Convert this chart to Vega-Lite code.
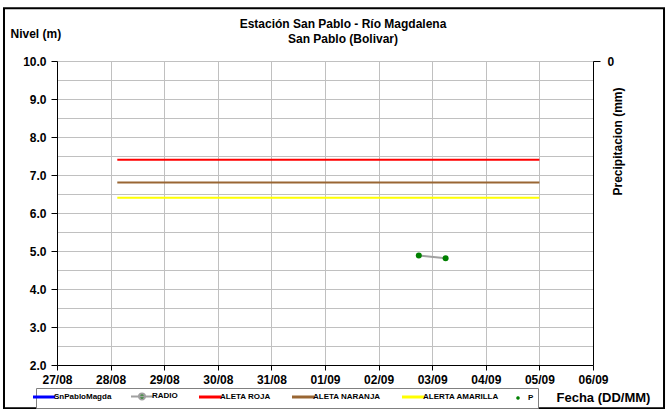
{
  "$schema": "https://vega.github.io/schema/vega-lite/v6.json",
  "width": 536,
  "height": 304,
  "autosize": {"type": "none"},
  "padding": {"left": 57, "top": 61, "right": 76, "bottom": 44},
  "background": "white",
  "config": {
    "font": "Liberation Sans",
    "view": {"stroke": null},
    "axis": {
      "labelFont": "Liberation Sans",
      "labelFontWeight": "bold",
      "labelFontSize": 12,
      "labelColor": "black",
      "titleFont": "Liberation Sans",
      "titleFontWeight": "bold",
      "titleFontSize": 12,
      "titleColor": "black",
      "domainColor": "black",
      "domainWidth": 1,
      "tickColor": "black",
      "gridColor": "#c0c0c0",
      "gridWidth": 1
    }
  },
  "title": {
    "text": ["Estación San Pablo - Río Magdalena", "San Pablo (Bolivar)"],
    "font": "Liberation Sans",
    "fontSize": 12,
    "fontWeight": "bold",
    "color": "black",
    "anchor": "middle",
    "dx": 18,
    "dy": 43,
    "lineHeight": 15
  },
  "datasets": {
    "radio": [
      {"fecha": "2024-09-02T18:00:00Z", "nivel": 4.88, "serie": "RADIO"},
      {"fecha": "2024-09-03T06:00:00Z", "nivel": 4.81, "serie": "RADIO"}
    ],
    "alertas": [
      {"serie": "ALETA ROJA", "inicio": "2024-08-28T03:00:00Z", "fin": "2024-09-05T00:00:00Z", "nivel": 7.4},
      {"serie": "ALETA NARANJA", "inicio": "2024-08-28T03:00:00Z", "fin": "2024-09-05T00:00:00Z", "nivel": 6.8},
      {"serie": "ALERTA AMARILLA", "inicio": "2024-08-28T03:00:00Z", "fin": "2024-09-05T00:00:00Z", "nivel": 6.4}
    ],
    "precip": [
      {"fecha": "2024-09-03T00:00:00Z", "p": null, "serie": "P"}
    ]
  },
  "layer": [
    {
      "data": {"values": [{}]},
      "mark": {"type": "rect", "filled": false, "stroke": "black", "strokeWidth": 2},
      "encoding": {
        "x": {"datum": {"year": 2024, "month": 8, "date": 26, "hours": 0, "minutes": 16, "utc": true}, "type": "temporal"},
        "x2": {"datum": {"year": 2024, "month": 9, "date": 7, "hours": 7, "minutes": 48, "utc": true}},
        "y": {
          "datum": 11.39,
          "type": "quantitative",
          "scale": {"domain": [2, 10], "nice": false, "zero": false},
          "axis": {
            "orient": "left",
            "values": [2.5, 3.5, 4.5, 5.5, 6.5, 7.5, 8.5, 9.5],
            "tickCount": 100,
            "grid": true,
            "labels": false,
            "ticks": false,
            "domain": false,
            "title": null
          }
        },
        "y2": {"datum": 0.86}
      }
    },
    {
      "layer": [
        {
          "data": {"name": "alertas"},
          "mark": {"type": "rule", "strokeWidth": 2},
          "encoding": {
            "x": {
              "field": "inicio",
              "type": "temporal",
              "scale": {
                "type": "utc",
                "domain": [
                  {"year": 2024, "month": 8, "date": 27, "utc": true},
                  {"year": 2024, "month": 9, "date": 6, "utc": true}
                ]
              },
              "axis": {
                "values": [
                  {"year": 2024, "month": 8, "date": 27, "utc": true},
                  {"year": 2024, "month": 8, "date": 28, "utc": true},
                  {"year": 2024, "month": 8, "date": 29, "utc": true},
                  {"year": 2024, "month": 8, "date": 30, "utc": true},
                  {"year": 2024, "month": 8, "date": 31, "utc": true},
                  {"year": 2024, "month": 9, "date": 1, "utc": true},
                  {"year": 2024, "month": 9, "date": 2, "utc": true},
                  {"year": 2024, "month": 9, "date": 3, "utc": true},
                  {"year": 2024, "month": 9, "date": 4, "utc": true},
                  {"year": 2024, "month": 9, "date": 5, "utc": true},
                  {"year": 2024, "month": 9, "date": 6, "utc": true}
                ],
                "format": "%d/%m",
                "grid": true,
                "tickSize": 5,
                "labelPadding": 4,
                "labelFlush": false,
                "labelOverlap": false,
                "title": "Fecha (DD/MM)",
                "titleFontSize": 13,
                "titleAnchor": "start",
                "titleX": 499,
                "titleY": 32,
                "titleAlign": "left",
                "titleBaseline": "middle"
              }
            },
            "x2": {"field": "fin"},
            "y": {
              "field": "nivel",
              "type": "quantitative",
              "scale": {"domain": [2, 10], "nice": false, "zero": false},
              "axis": {
                "orient": "left",
                "values": [2, 3, 4, 5, 6, 7, 8, 9, 10],
                "tickCount": 100,
                "format": ".1f",
                "labelOverlap": false,
                "grid": true,
                "tickSize": 6,
                "labelPadding": 5,
                "title": "Nivel (m)",
                "titleAngle": 0,
                "titleAnchor": "start",
                "titleX": -47,
                "titleY": -28,
                "titleAlign": "left",
                "titleBaseline": "middle"
              }
            },
            "color": {
              "field": "serie",
              "type": "nominal",
              "scale": {
                "domain": ["SnPabloMagda", "RADIO", "ALETA ROJA", "ALETA NARANJA", "ALERTA AMARILLA", "P"],
                "range": ["#0000ff", "#a0a0a0", "#ff0000", "#996633", "#ffff00", "#008000"]
              },
              "legend": {
                "title": null,
                "orient": "none",
                "legendX": -21,
                "legendY": 327,
                "direction": "horizontal",
                "columns": 6,
                "strokeColor": "#808080",
                "fillColor": "white",
                "padding": 4,
                "labelFont": "Liberation Sans",
                "labelFontWeight": "bold",
                "labelFontSize": 8,
                "labelColor": "black",
                "labelOffset": 6,
                "labelLimit": 200,
                "columnPadding": 15,
                "symbolType": "M-1,0L1,0",
                "symbolSize": 484,
                "symbolStrokeWidth": 3,
                "encode": {
                  "symbols": {
                    "update": {
                      "shape": {"signal": "datum.value === 'RADIO' ? 'M-1,0L1,0M-0.28,0A0.28,0.28,0,1,1,0.28,0A0.28,0.28,0,1,1,-0.28,0Z' : datum.value === 'P' ? 'M-0.1,-0.1L0.1,-0.1L0.1,0.1L-0.1,0.1Z' : 'M-1,0L1,0'"},
                      "fill": {"signal": "datum.value === 'RADIO' || datum.value === 'P' ? '#008000' : 'transparent'"},
                      "strokeWidth": {"signal": "datum.value === 'P' ? 1 : datum.value === 'RADIO' ? 2 : 3"}
                    }
                  }
                }
              }
            }
          }
        },
        {
          "data": {"name": "radio"},
          "mark": {"type": "line", "strokeWidth": 2},
          "encoding": {
            "x": {"field": "fecha", "type": "temporal"},
            "y": {"field": "nivel", "type": "quantitative"},
            "color": {"field": "serie", "type": "nominal"}
          }
        },
        {
          "data": {"name": "radio"},
          "mark": {"type": "point", "filled": true, "size": 36, "color": "#008000", "opacity": 1},
          "encoding": {
            "x": {"field": "fecha", "type": "temporal"},
            "y": {"field": "nivel", "type": "quantitative"}
          }
        }
      ]
    },
    {
      "data": {"name": "precip"},
      "mark": {"type": "point", "filled": true, "size": 9, "color": "#008000"},
      "encoding": {
        "x": {"field": "fecha", "type": "temporal"},
        "y": {
          "field": "p",
          "type": "quantitative",
          "scale": {"domain": [0, 1], "reverse": true, "nice": false, "zero": false},
          "axis": {
            "orient": "right",
            "values": [0],
            "format": "d",
            "grid": false,
            "tickSize": 7,
            "labelPadding": 7,
            "title": "Precipitacion (mm)",
            "titleAngle": 270,
            "titleX": 24,
            "titleY": 80,
            "titleAlign": "center",
            "titleBaseline": "middle"
          }
        }
      }
    }
  ],
  "resolve": {"scale": {"y": "independent"}, "axis": {"y": "independent"}}
}
